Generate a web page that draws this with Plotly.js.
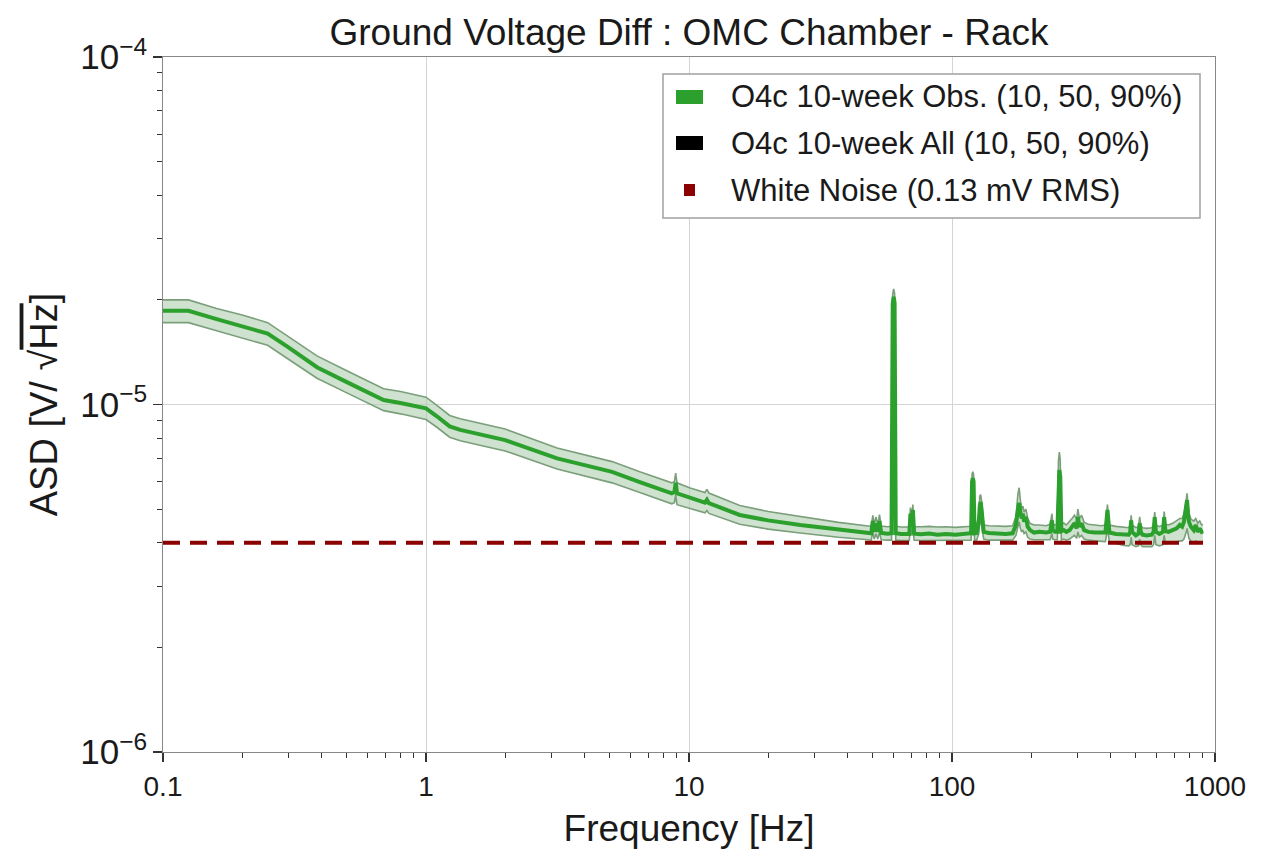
<!DOCTYPE html>
<html>
<head>
<meta charset="utf-8">
<script src="https://cdn.plot.ly/plotly-3.0.1.min.js"></script>
<style>html,body{margin:0;padding:0;background:#fff;}#chart{width:1267px;height:857px;}</style>
</head>
<body>
<div id="chart"></div>
<script>
// Frequency grid [Hz]
const freq = [
  0.1,0.125,0.16,0.2,0.25,0.3,0.385,0.5,0.69,0.8,0.92,1.0,1.1,1.23,1.35,1.5,2.0,3.15,4.0,5.1,6.5,8.6,8.8,8.9,9.0,10.1,11.5,11.7,11.9,15.6,20,26.5,37,48,
  49.3,50,50.6,51.4,52.2,53,53.8,57,58.9,59.5,60,60.5,61.1,64,68.8,69.5,70.2,71,71.8,76,82,88,95,103,110,116,
  118.2,119.2,120,120.8,121.8,124,126.5,127.5,128.5,129.5,130.5,132,138,148,160,170,
  175,178,180,182,184,186,188,191,194,198,205,215,228,236,238.5,240,241.5,246,
  251.5,254,256,258,260.5,266,272,280,286,292,298,301,305,311,318,330,350,370,
  383,387.5,390,392.5,397,420,450,470,476,480,484,500,512,517,522,530,550,575,584,590,596,615,634,641,648,665,690,715,735,750,762,772,778,783,789,796,810,830,845,860,875,890,900
];
// Median (50%) ASD [V/rtHz]
const obs50 = [
  1.86e-5,1.86e-5,1.76e-5,1.68e-5,1.60e-5,1.46e-5,1.28e-5,1.16e-5,1.03e-5,1.01e-5,9.9e-6,9.75e-6,9.25e-6,8.65e-6,8.45e-6,8.3e-6,7.9e-6,7.0e-6,6.7e-6,6.4e-6,5.98e-6,5.55e-6,5.6e-6,5.95e-6,5.55e-6,5.38e-6,5.22e-6,5.32e-6,5.2e-6,4.81e-6,4.64e-6,4.5e-6,4.36e-6,4.27e-6,
  4.26e-6,4.62e-6,4.30e-6,4.55e-6,4.30e-6,4.62e-6,4.27e-6,4.25e-6,4.26e-6,1.95e-5,2.04e-5,1.96e-5,4.26e-6,4.24e-6,4.24e-6,4.85e-6,4.50e-6,4.97e-6,4.25e-6,4.23e-6,4.25e-6,4.22e-6,4.24e-6,4.22e-6,4.23e-6,4.24e-6,
  4.26e-6,6.0e-6,6.14e-6,6.0e-6,4.26e-6,4.27e-6,4.6e-6,5.1e-6,5.24e-6,5.0e-6,4.7e-6,4.3e-6,4.27e-6,4.25e-6,4.24e-6,4.26e-6,
  4.5e-6,4.95e-6,5.21e-6,4.9e-6,4.7e-6,4.85e-6,4.6e-6,4.75e-6,4.45e-6,4.35e-6,4.28e-6,4.3e-6,4.28e-6,4.3e-6,4.55e-6,4.64e-6,4.35e-6,4.3e-6,
  4.3e-6,6.2e-6,6.48e-6,6.2e-6,4.32e-6,4.35e-6,4.3e-6,4.35e-6,4.45e-6,4.55e-6,4.4e-6,4.74e-6,4.45e-6,4.55e-6,4.35e-6,4.3e-6,4.28e-6,4.27e-6,
  4.28e-6,4.7e-6,4.97e-6,4.7e-6,4.28e-6,4.24e-6,4.22e-6,4.22e-6,4.3e-6,4.64e-6,4.3e-6,4.2e-6,4.25e-6,4.55e-6,4.3e-6,4.22e-6,4.2e-6,4.22e-6,4.3e-6,4.74e-6,4.3e-6,4.24e-6,4.3e-6,4.74e-6,4.32e-6,4.3e-6,4.35e-6,4.4e-6,4.5e-6,4.45e-6,4.6e-6,4.9e-6,5.15e-6,5.31e-6,4.9e-6,4.6e-6,4.45e-6,4.35e-6,4.5e-6,4.3e-6,4.4e-6,4.3e-6,4.32e-6
];
// 90th percentile
const obs90 = [
  2.0e-5,2.0e-5,1.89e-5,1.81e-5,1.72e-5,1.57e-5,1.38e-5,1.25e-5,1.11e-5,1.09e-5,1.065e-5,1.05e-5,9.95e-6,9.3e-6,9.1e-6,8.93e-6,8.5e-6,7.5e-6,7.18e-6,6.85e-6,6.4e-6,5.95e-6,6.0e-6,6.35e-6,5.95e-6,5.75e-6,5.58e-6,5.7e-6,5.56e-6,5.12e-6,4.92e-6,4.76e-6,4.58e-6,4.47e-6,
  4.46e-6,4.80e-6,4.52e-6,4.75e-6,4.50e-6,4.82e-6,4.47e-6,4.45e-6,4.46e-6,2.08e-5,2.15e-5,2.09e-5,4.46e-6,4.44e-6,4.44e-6,5.05e-6,4.70e-6,5.15e-6,4.45e-6,4.45e-6,4.46e-6,4.44e-6,4.45e-6,4.43e-6,4.44e-6,4.46e-6,
  4.46e-6,6.3e-6,6.4e-6,6.3e-6,4.46e-6,4.48e-6,4.85e-6,5.45e-6,5.5e-6,5.3e-6,5.0e-6,4.5e-6,4.48e-6,4.47e-6,4.46e-6,4.48e-6,
  4.75e-6,5.5e-6,5.76e-6,5.3e-6,5.0e-6,5.1e-6,4.9e-6,5.0e-6,4.7e-6,4.55e-6,4.5e-6,4.5e-6,4.48e-6,4.52e-6,4.75e-6,4.85e-6,4.55e-6,4.5e-6,
  4.5e-6,6.9e-6,7.3e-6,6.9e-6,4.52e-6,4.56e-6,4.5e-6,4.6e-6,4.7e-6,4.8e-6,4.68e-6,5.0e-6,4.7e-6,4.8e-6,4.58e-6,4.52e-6,4.5e-6,4.48e-6,
  4.5e-6,4.9e-6,5.15e-6,4.9e-6,4.5e-6,4.46e-6,4.44e-6,4.42e-6,4.5e-6,4.8e-6,4.5e-6,4.42e-6,4.45e-6,4.75e-6,4.5e-6,4.42e-6,4.4e-6,4.42e-6,4.5e-6,4.9e-6,4.5e-6,4.45e-6,4.5e-6,4.92e-6,4.52e-6,4.5e-6,4.55e-6,4.62e-6,4.7e-6,4.7e-6,4.85e-6,5.1e-6,5.45e-6,5.55e-6,5.2e-6,4.85e-6,4.68e-6,4.62e-6,4.7e-6,4.55e-6,4.62e-6,4.5e-6,4.52e-6
];
// 10th percentile
const obs10 = [
  1.72e-5,1.72e-5,1.63e-5,1.55e-5,1.48e-5,1.35e-5,1.19e-5,1.08e-5,9.6e-6,9.4e-6,9.2e-6,9.05e-6,8.6e-6,8.05e-6,7.86e-6,7.72e-6,7.35e-6,6.52e-6,6.24e-6,5.95e-6,5.58e-6,5.18e-6,5.22e-6,5.5e-6,5.15e-6,5.02e-6,4.88e-6,4.95e-6,4.86e-6,4.52e-6,4.38e-6,4.27e-6,4.15e-6,4.08e-6,
  4.07e-6,4.30e-6,4.10e-6,4.25e-6,4.10e-6,4.28e-6,4.08e-6,4.07e-6,4.07e-6,1.80e-5,1.90e-5,1.82e-5,4.07e-6,4.06e-6,4.06e-6,4.40e-6,4.20e-6,4.45e-6,4.07e-6,4.06e-6,4.06e-6,4.05e-6,4.06e-6,4.05e-6,4.05e-6,4.06e-6,
  4.07e-6,5.6e-6,5.75e-6,5.6e-6,4.07e-6,4.07e-6,4.25e-6,4.6e-6,4.7e-6,4.5e-6,4.3e-6,4.1e-6,4.07e-6,4.07e-6,4.06e-6,4.07e-6,
  4.2e-6,4.4e-6,4.6e-6,4.4e-6,4.3e-6,4.35e-6,4.25e-6,4.3e-6,4.15e-6,4.1e-6,4.08e-6,4.08e-6,4.07e-6,4.08e-6,4.2e-6,4.25e-6,4.1e-6,4.08e-6,
  4.08e-6,5.5e-6,5.7e-6,5.5e-6,4.08e-6,4.1e-6,4.07e-6,4.1e-6,4.15e-6,4.2e-6,4.12e-6,4.3e-6,4.15e-6,4.2e-6,4.1e-6,4.07e-6,4.05e-6,4.03e-6,
  4.03e-6,4.25e-6,4.4e-6,4.25e-6,4.02e-6,3.98e-6,3.93e-6,3.92e-6,3.95e-6,4.15e-6,3.95e-6,3.9e-6,3.92e-6,4.1e-6,3.95e-6,3.9e-6,3.9e-6,3.9e-6,3.95e-6,4.2e-6,3.95e-6,3.92e-6,3.95e-6,4.2e-6,3.97e-6,3.98e-6,4.0e-6,4.02e-6,4.05e-6,4.05e-6,4.1e-6,4.2e-6,4.3e-6,4.4e-6,4.25e-6,4.12e-6,4.05e-6,4.0e-6,4.05e-6,4.0e-6,4.02e-6,4.0e-6,4.02e-6
];
// White noise reference level (0.13 mV RMS)
const wnFreq = [0.1, 900];
const wnLevel = [4.0e-6, 4.0e-6];

const legendNames = ['O4c 10-week Obs. (10, 50, 90%)', 'O4c 10-week All (10, 50, 90%)', 'White Noise (0.13 mV RMS)'];
const titleText = 'Ground Voltage Diff : OMC Chamber - Rack';
const xTitle = 'Frequency [Hz]';
const yTitle = 'ASD [V/ √<span style="text-decoration:overline">Hz</span>]';

const GREEN = '#2ca02c', BAND_EDGE = '#7a9f7a', BAND_FILL = 'rgba(175,205,175,0.6)', RED = '#8b0000';

const traces = [
  // "All" (lies under the Obs. traces)
  {x: freq, y: obs50, mode: 'lines', name: legendNames[1], line: {color: '#000', width: 2}, showlegend: false, hoverinfo: 'skip'},
  // Obs band
  {x: freq, y: obs10, mode: 'lines', line: {color: BAND_EDGE, width: 1.6}, showlegend: false, hoverinfo: 'skip'},
  {x: freq, y: obs90, mode: 'lines', line: {color: BAND_EDGE, width: 1.6}, fill: 'tonexty', fillcolor: BAND_FILL, showlegend: false, hoverinfo: 'skip'},
  // Obs median
  {x: freq, y: obs50, mode: 'lines', name: legendNames[0], line: {color: GREEN, width: 4}, showlegend: false},
  // White noise
  {x: wnFreq, y: wnLevel, mode: 'lines', name: legendNames[2], line: {color: RED, width: 4, dash: '17px,10px'}, showlegend: false}
];

// plot area in pixels: x 163..1215, y 57..752
const PX = v => (v - 163) / 1052;
const PY = v => (752 - v) / 695;

const legendRows = [97, 143, 190];
const shapes = [
  {type: 'rect', xref: 'paper', yref: 'paper', x0: PX(663), x1: PX(1200), y0: PY(218), y1: PY(74),
   line: {color: '#a0a0a0', width: 1.5}, fillcolor: '#fff', layer: 'above'},
  {type: 'rect', xref: 'paper', yref: 'paper', x0: PX(676), x1: PX(703), y0: PY(legendRows[0] + 7), y1: PY(legendRows[0] - 7),
   line: {width: 0}, fillcolor: GREEN, layer: 'above'},
  {type: 'rect', xref: 'paper', yref: 'paper', x0: PX(676), x1: PX(703), y0: PY(legendRows[1] + 7), y1: PY(legendRows[1] - 7),
   line: {width: 0}, fillcolor: '#000', layer: 'above'},
  {type: 'rect', xref: 'paper', yref: 'paper', x0: PX(684), x1: PX(695), y0: PY(legendRows[2] + 6), y1: PY(legendRows[2] - 6),
   line: {width: 0}, fillcolor: RED, layer: 'above'}
];
const FONT = 'Liberation Sans, Arial, Helvetica, sans-serif';
const annotations = legendNames.map((t, i) => ({
  text: t, xref: 'paper', yref: 'paper', x: PX(729), y: PY(legendRows[i]), xanchor: 'left', yanchor: 'middle',
  showarrow: false, font: {size: 31, family: FONT, color: '#1a1a1a'}
}));

const layout = {
  width: 1267, height: 857,
  margin: {l: 163, r: 52, t: 57, b: 105},
  paper_bgcolor: '#fff', plot_bgcolor: '#fff',
  font: {family: FONT, color: '#1a1a1a'},
  title: {text: titleText, font: {size: 37, family: FONT, color: '#1a1a1a'}, x: 0.5, xref: 'paper', xanchor: 'center', y: 1 - 32/857, yref: 'container', yanchor: 'middle'},
  xaxis: {
    type: 'log', range: [-1, 3], tickmode: 'linear', tick0: 0, dtick: 1, exponentformat: 'none',
    ticks: 'outside', ticklen: 9, tickwidth: 1.2, tickcolor: '#333',
    minor: {ticks: 'outside', ticklen: 5, tickwidth: 1, tickcolor: '#333', dtick: 'D1', showgrid: false},
    showline: true, mirror: true, linecolor: '#888', linewidth: 1.2,
    showgrid: true, gridcolor: '#d4d4d4', gridwidth: 1, zeroline: false,
    tickfont: {size: 28, family: FONT, color: '#1a1a1a'},
    title: {text: xTitle, font: {size: 37, family: FONT, color: '#1a1a1a'}, standoff: 14}
  },
  yaxis: {
    type: 'log', range: [-6, -4], tickmode: 'linear', tick0: 0, dtick: 1, exponentformat: 'power',
    ticks: 'outside', ticklen: 9, tickwidth: 1.2, tickcolor: '#333',
    minor: {ticks: 'outside', ticklen: 5, tickwidth: 1, tickcolor: '#333', dtick: 'D1', showgrid: false},
    showline: true, mirror: true, linecolor: '#888', linewidth: 1.2,
    showgrid: true, gridcolor: '#d4d4d4', gridwidth: 1, zeroline: false,
    tickfont: {size: 28, family: FONT, color: '#1a1a1a'},
    title: {text: yTitle, font: {size: 38, family: FONT, color: '#1a1a1a'}, standoff: 11}
  },
  shapes: shapes,
  annotations: annotations,
  showlegend: false
};

Plotly.newPlot('chart', traces, layout, {displayModeBar: false, staticPlot: true});
</script>
</body>
</html>
